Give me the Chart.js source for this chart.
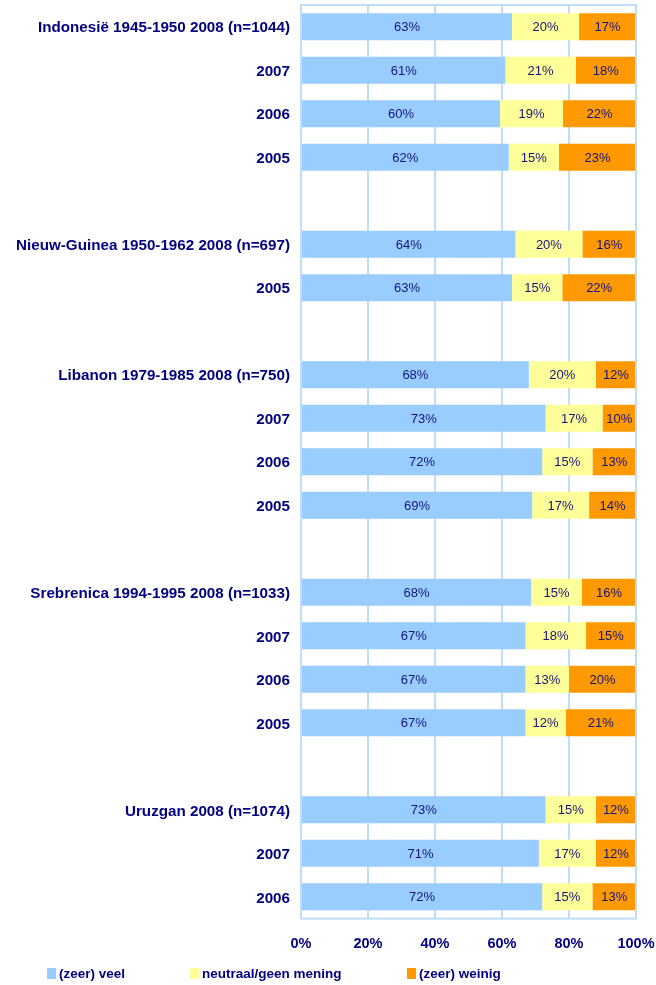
<!DOCTYPE html>
<html lang="nl">
    <head>
        <meta charset="UTF-8" />
        <title>Oordeel over missies</title>
        <script src="https://cdn.jsdelivr.net/npm/chart.js"></script>
        <style>
            body { margin: 0; background: #fff; font-family: "Liberation Sans", Arial, sans-serif; }
            .wrap { position: relative; width: 656px; height: 985px; }
            canvas { position: absolute; top: 0; left: 0; }
            .legend { position: absolute; top: 966px; left: 0; width: 656px; font-weight: bold; font-size: 13.5px; color: #000080; }
            .legend span { position: absolute; white-space: nowrap; }
            .legend i { display: inline-block; width: 9px; height: 11px; margin-right: 3px; vertical-align: -1px; }
        </style>
    </head>
    <body>
        <div class="wrap">
            <canvas id="chartMissies" width="656" height="980"></canvas>
            <div class="legend">
                <span style="left: 47px"><i style="background: #99ccff"></i>(zeer) veel</span>
                <span style="left: 190px"><i style="background: #ffff99"></i>neutraal/geen mening</span>
                <span style="left: 407px"><i style="background: #ff9900"></i>(zeer) weinig</span>
            </div>
        </div>

        <script>
            // lege regels ("") zijn de witruimtes tussen de missies
            const categorieen = [
                "Indonesië 1945-1950 2008 (n=1044)", "2007", "2006", "2005", "",
                "Nieuw-Guinea 1950-1962 2008 (n=697)", "2005", "",
                "Libanon 1979-1985 2008 (n=750)", "2007", "2006", "2005", "",
                "Srebrenica 1994-1995 2008 (n=1033)", "2007", "2006", "2005", "",
                "Uruzgan 2008 (n=1074)", "2007", "2006",
            ];
            const veel = [63, 61, 60, 62, null, 64, 63, null, 68, 73, 72, 69, null, 68, 67, 67, 67, null, 73, 71, 72];
            const neutraal = [20, 21, 19, 15, null, 20, 15, null, 20, 17, 15, 17, null, 15, 18, 13, 12, null, 15, 17, 15];
            const weinig = [17, 18, 22, 23, null, 16, 22, null, 12, 10, 13, 14, null, 16, 15, 20, 21, null, 12, 12, 13];
            const xTicks = [0, 20, 40, 60, 80, 100];

            // 100% gestapeld: elke rij naar zijn eigen totaal schalen
            const totaal = veel.map((v, i) => (v === null ? null : v + neutraal[i] + weinig[i]));
            const pct = (arr) => arr.map((v, i) => (v === null ? null : (v / totaal[i]) * 100));

            const navy = "#000080";
            const rasterKleur = "#bfdcfb";

            const waardeLabels = {
                id: "waardeLabels",
                afterDatasetsDraw(chart) {
                    const ctx = chart.ctx;
                    ctx.save();
                    ctx.font = "13px 'Liberation Sans', Arial, sans-serif";
                    ctx.fillStyle = "#14147a";
                    ctx.textAlign = "center";
                    ctx.textBaseline = "middle";
                    chart.data.datasets.forEach((ds, di) => {
                        chart.getDatasetMeta(di).data.forEach((bar, i) => {
                            const raw = ds.ruw[i];
                            if (raw === null) return;
                            ctx.fillText(raw + "%", (bar.x + bar.base) / 2, bar.y + 1);
                        });
                    });
                    ctx.restore();
                },
            };

            const kader = {
                id: "kader",
                afterDatasetsDraw(chart) {
                    const a = chart.chartArea;
                    const ctx = chart.ctx;
                    ctx.save();
                    ctx.strokeStyle = rasterKleur;
                    ctx.lineWidth = 2;
                    ctx.strokeRect(a.left, a.top, a.right - a.left, a.bottom - a.top);
                    ctx.restore();
                },
            };

            new Chart(document.getElementById("chartMissies"), {
                type: "bar",
                data: {
                    labels: categorieen,
                    datasets: [
                        { label: "(zeer) veel", data: pct(veel), ruw: veel, backgroundColor: "#99ccff" },
                        { label: "neutraal/geen mening", data: pct(neutraal), ruw: neutraal, backgroundColor: "#ffff99" },
                        { label: "(zeer) weinig", data: pct(weinig), ruw: weinig, backgroundColor: "#ff9900" },
                    ],
                },
                options: {
                    indexAxis: "y",
                    responsive: false,
                    animation: false,
                    layout: { padding: { top: 5, right: 20, bottom: 10, left: 0 } },
                    datasets: { bar: { categoryPercentage: 0.62, barPercentage: 1 } },
                    plugins: { legend: { display: false }, tooltip: { enabled: false } },
                    scales: {
                        x: {
                            stacked: true,
                            min: 0,
                            max: 100,
                            afterBuildTicks: (axis) => { axis.ticks = xTicks.map((v) => ({ value: v })); },
                            afterFit: (axis) => { axis.paddingLeft = 0; axis.paddingRight = 0; },
                            grid: { color: rasterKleur, lineWidth: 2, drawTicks: false },
                            border: { display: false },
                            ticks: {
                                padding: 17,
                                color: navy,
                                font: { family: "'Liberation Sans', Arial, sans-serif", size: 14.5, weight: "bold" },
                                callback: (v) => v + "%",
                            },
                        },
                        y: {
                            stacked: true,
                            grid: { display: false, drawTicks: false },
                            border: { display: false },
                            afterFit: (axis) => { axis.width = 301; axis.paddingTop = 0; axis.paddingBottom = 0; },
                            ticks: {
                                padding: 11,
                                labelOffset: 1.5,
                                autoSkip: false,
                                color: navy,
                                font: { family: "'Liberation Sans', Arial, sans-serif", size: 15.2, weight: "bold" },
                            },
                        },
                    },
                },
                plugins: [waardeLabels, kader],
            });
        </script>
    </body>
</html>
